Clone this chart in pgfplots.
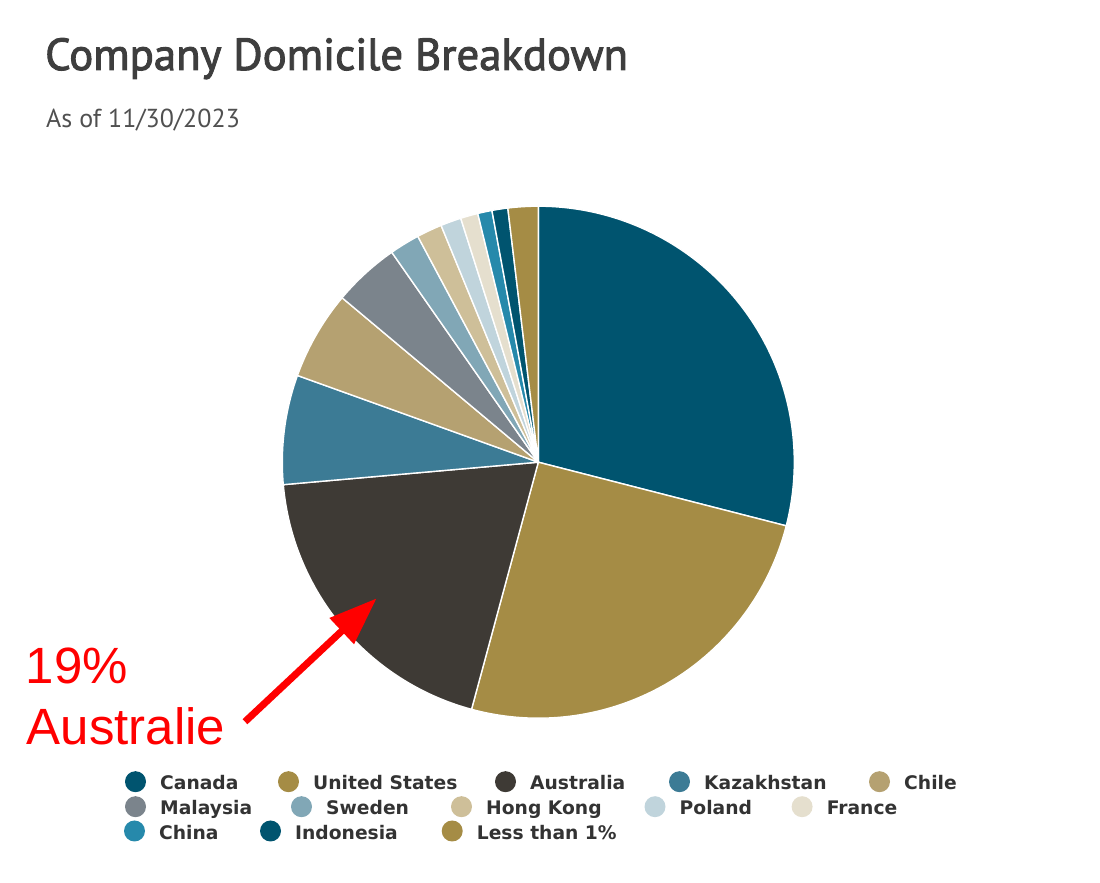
\documentclass[border=0pt]{standalone}
\usepackage{pgfplots}
\pgfplotsset{compat=1.18}
\usepackage{pgfplotstable}
\usepackage{fontspec}
\usetikzlibrary{arrows.meta}
\newfontfamily\titlefont[FakeBold=2.2]{PT Sans}
\newfontfamily\subfont{PT Sans}
\newfontfamily\legfont{DejaVu Sans}
\newfontfamily\redfont{Liberation Sans}
\definecolor{cCanada}{HTML}{00546F}
\definecolor{cUS}{HTML}{A58C45}
\definecolor{cAus}{HTML}{3E3A35}
\definecolor{cKaz}{HTML}{3C7B95}
\definecolor{cChile}{HTML}{B5A171}
\definecolor{cMal}{HTML}{7B848C}
\definecolor{cSwe}{HTML}{81A7B6}
\definecolor{cHK}{HTML}{CEBF99}
\definecolor{cPol}{HTML}{C0D4DC}
\definecolor{cFra}{HTML}{E5DFCE}
\definecolor{cChina}{HTML}{2689AB}
\definecolor{cIndo}{HTML}{00546F}
\definecolor{cLess}{HTML}{A58C45}
\definecolor{legtext}{HTML}{333333}
\definecolor{titletext}{HTML}{3E3E3E}
\definecolor{subtext}{HTML}{505050}
% share of companies by domicile (%), clockwise from 12 o'clock
\pgfplotstableread{
value color
29.0 cCanada
25.2 cUS
19.4 cAus
6.9 cKaz
5.6 cChile
4.2 cMal
1.9 cSwe
1.6 cHK
1.3 cPol
1.1 cFra
0.9 cChina
1.0 cIndo
1.9 cLess
}\piedata
\newcommand\legitem[4]{%
  \node[circle, fill=#3, minimum size=21pt, inner sep=0pt] at (axis cs:{#1-24.5},{#2+8.3}) {};
  \node[anchor=base west, inner sep=0pt, text=legtext, font=\legfont\bfseries\fontsize{18.7}{20}\selectfont] at (axis cs:#1,#2) {#4};
}
\begin{document}
\begin{tikzpicture}
\begin{axis}[x=1pt, y=1pt, xmin=0, xmax=1100, ymin=0, ymax=883,
  hide axis, clip=false]
\path (axis cs:0,0) rectangle (axis cs:1100,883);
\xdef\cum{0}
\pgfplotsforeachungrouped \i in {0,...,12}{%
  \pgfplotstablegetelem{\i}{value}\of\piedata \let\slv\pgfplotsretval
  \pgfplotstablegetelem{\i}{color}\of\piedata \let\slcol\pgfplotsretval
  \pgfmathsetmacro\sla{90-3.6*\cum}%
  \pgfmathsetmacro\slb{90-3.6*(\cum+\slv)}%
  \pgfmathsetmacro\slx{538.3+256*cos(\sla)}%
  \pgfmathsetmacro\sly{420.8+256*sin(\sla)}%
  \edef\tmp{\noexpand\fill[\slcol, draw=white, line width=1.4pt, line join=round]
    (axis cs:538.3,420.8) -- (axis cs:\slx,\sly) arc[start angle=\sla, end angle=\slb, radius=256pt] -- cycle;}%
  \tmp
  \pgfmathsetmacro\newcum{\cum+\slv}\xdef\cum{\newcum}%
}
% title
\node[anchor=base west, inner sep=0pt, text=titletext] at (axis cs:45,813)
  {\titlefont\fontsize{44.8}{50}\selectfont Company Domicile Breakdown};
\node[anchor=base west, inner sep=0pt, text=subtext] at (axis cs:46,755.3)
  {\subfont\fontsize{26}{28}\selectfont As of 11/30/2023};
% annotation
\draw[red, line width=7pt, -{Triangle[length=48pt,width=34pt]}] (axis cs:245,161.3) -- (axis cs:376.7,284.7);
\node[anchor=base west, inner sep=0pt, text=red] at (axis cs:25.5,199)
  {\redfont\fontsize{51}{61}\selectfont 19\%};
\node[anchor=base west, inner sep=0pt, text=red] at (axis cs:26.5,138)
  {\redfont\fontsize{51}{61}\selectfont Australie};
% legend
\legitem{160}{93}{cCanada}{Canada}
\legitem{313}{93}{cUS}{United States}
\legitem{530}{93}{cAus}{Australia}
\legitem{704}{93}{cKaz}{Kazakhstan}
\legitem{904}{93}{cChile}{Chile}
\legitem{160}{68}{cMal}{Malaysia}
\legitem{326}{68}{cSwe}{Sweden}
\legitem{486}{68}{cHK}{Hong Kong}
\legitem{679.5}{68}{cPol}{Poland}
\legitem{826.6}{68}{cFra}{France}
\legitem{159}{43.7}{cChina}{China}
\legitem{295}{43.7}{cIndo}{Indonesia}
\legitem{476.7}{43.7}{cLess}{Less than 1\%}
\end{axis}
\end{tikzpicture}
\end{document}
